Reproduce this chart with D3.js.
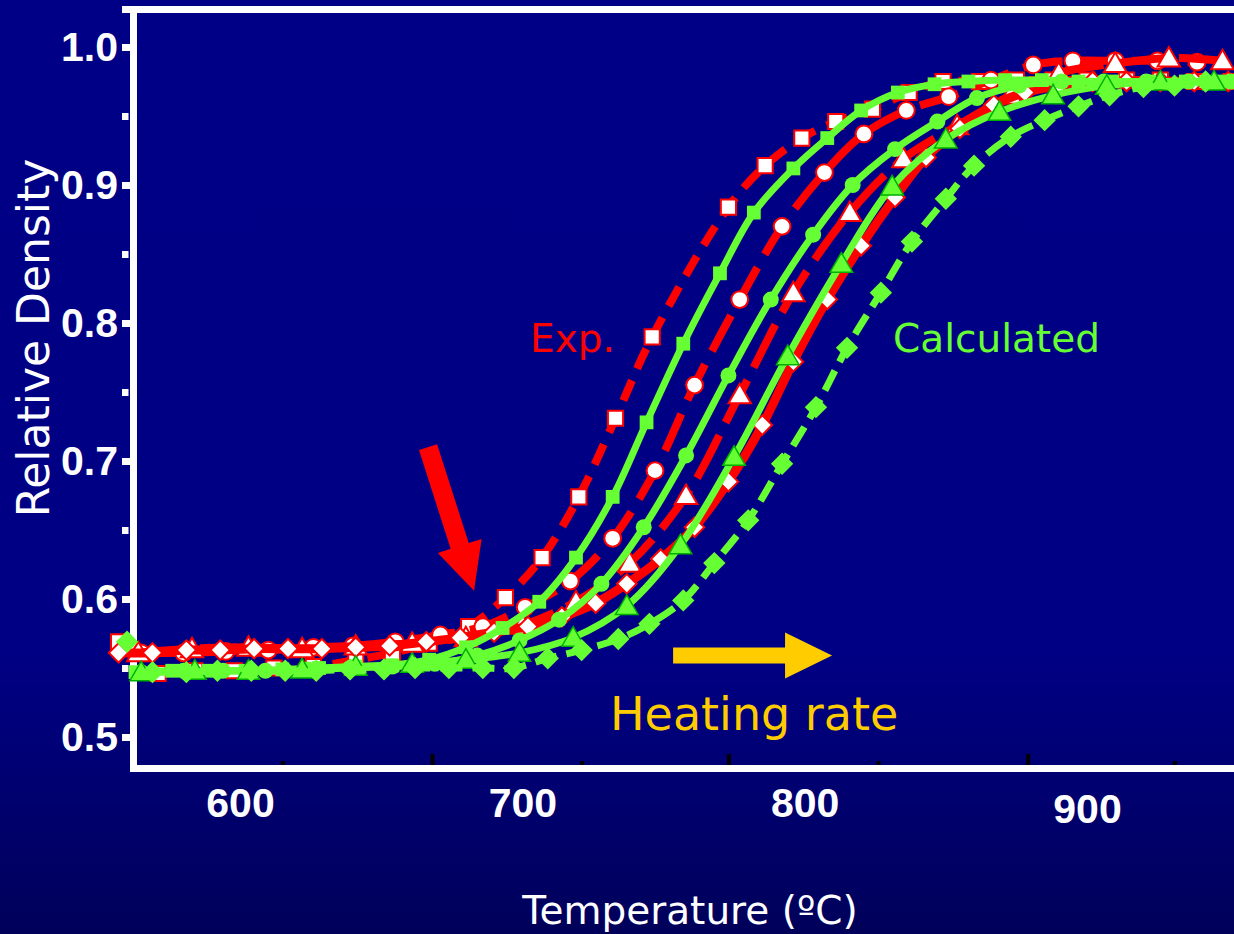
<!DOCTYPE html>
<html>
<head>
<meta charset="utf-8">
<title>Relative Density vs Temperature</title>
<script src="https://d3js.org/d3.v7.min.js"></script>
<style>
  body { margin: 0; background: #000080; }
  .lbl { font-family: "DejaVu Sans", Verdana, sans-serif; }
</style>
</head>
<body>
<script>
var width = 1234, height = 934;

// experimental runs (red, open markers) - temperature (C) and relative density
var expSqT = [557,571,584,598,612,626,641,654,667,681,694,707,720,733,746,773,786,799,811,824,837,849,862,875,888,900,914,926,938,951];
var expSqD = [0.569,0.546,0.548,0.548,0.550,0.551,0.556,0.561,0.568,0.580,0.601,0.630,0.674,0.731,0.790,0.884,0.914,0.934,0.946,0.955,0.967,0.975,0.975,0.976,0.976,0.976,0.976,0.976,0.975,0.975];
var expCirT = [565,580,595,610,626,640,655,671,686,701,717,732,747,761,777,792,807,821,836,851,866,881,895,910,925,939];
var expCirD = [0.561,0.561,0.562,0.563,0.565,0.566,0.569,0.574,0.580,0.594,0.613,0.644,0.693,0.755,0.817,0.870,0.909,0.937,0.954,0.964,0.976,0.987,0.990,0.990,0.990,0.989];
var expTriT = [564,583,603,622,641,661,680,700,719,738,758,777,796,816,835,854,873,890,910,929,948];
var expTriD = [0.561,0.564,0.565,0.564,0.566,0.568,0.572,0.581,0.598,0.626,0.675,0.748,0.822,0.880,0.919,0.943,0.965,0.981,0.988,0.992,0.990];
var expDiaT = [557,569,581,593,605,617,629,641,653,666,678,690,702,714,726,737,749,761,773,785,796,808,820,832,843,855,867,878,890,902,914,926,938,950];
var expDiaD = [0.561,0.561,0.563,0.563,0.564,0.564,0.564,0.565,0.566,0.569,0.572,0.576,0.580,0.587,0.597,0.611,0.629,0.652,0.685,0.726,0.772,0.817,0.856,0.891,0.920,0.941,0.958,0.967,0.972,0.975,0.975,0.975,0.975,0.975];

// calculated curves (green, filled markers)
var calcSqT = [563,576,589,602,615,628,641,654,667,680,693,706,719,732,744,757,770,782,796,808,820,833,846,858,871,884,897,909,922,935,948];
var calcSqD = [0.547,0.548,0.548,0.548,0.549,0.550,0.551,0.552,0.556,0.565,0.579,0.598,0.630,0.674,0.728,0.785,0.836,0.880,0.912,0.934,0.954,0.967,0.973,0.975,0.976,0.976,0.975,0.975,0.975,0.975,0.975];
var calcCirT = [565,580,594,609,624,639,654,669,684,699,713,728,743,758,773,788,803,817,832,847,861,876,891,906,921,936,951];
var calcCirD = [0.547,0.548,0.548,0.548,0.549,0.550,0.551,0.553,0.559,0.570,0.585,0.611,0.652,0.704,0.762,0.817,0.864,0.900,0.926,0.946,0.963,0.972,0.975,0.975,0.975,0.975,0.975];
var calcTriT = [565,584,603,622,641,661,680,699,718,737,756,775,794,813,831,850,869,888,907,926,945];
var calcTriD = [0.547,0.548,0.548,0.549,0.551,0.553,0.556,0.561,0.572,0.595,0.639,0.703,0.776,0.843,0.899,0.933,0.953,0.965,0.972,0.975,0.975];
var calcDiaT = [560,569,581,592,604,616,627,639,651,662,674,686,697,709,721,734,745,757,768,780,792,804,815,827,838,850,860,873,885,897,908,920,931,942];
var calcDiaD = [0.569,0.547,0.547,0.548,0.548,0.548,0.548,0.549,0.549,0.550,0.550,0.550,0.550,0.557,0.563,0.571,0.582,0.599,0.626,0.657,0.698,0.739,0.782,0.822,0.859,0.890,0.914,0.935,0.947,0.957,0.965,0.971,0.972,0.975];

// axis ticks
var xLabels = [600, 700, 800, 900];
var xMajorMarks = [668, 773, 879];
var xMinorMarks = [615, 721, 826, 931];
var yMajor = [0.5, 0.6, 0.7, 0.8, 0.9, 1.0];
var yMinor = [0.55, 0.65, 0.75, 0.85, 0.95];

var red = "#ff0000", green = "#66ff33", gold = "#ffcc00";

function zip(t, d) { return t.map(function(v, i) { return [v, d[i]]; }); }

var series = [
  {pts: zip(expSqT, expSqD), color: red, mk: "square", dash: "22,13", w: 8, from: 1, size: 230},
  {pts: zip(expCirT, expCirD), color: red, mk: "circle", dash: "40,15", w: 8, from: 0, size: 220},
  {pts: zip(expTriT, expTriD), color: red, mk: "triangle", dash: "48,14", w: 8, from: 0, size: 220},
  {pts: zip(expDiaT, expDiaD), color: red, mk: "diamond", dash: null, w: 9, from: 0, size: 190},
  {pts: zip(calcSqT, calcSqD), color: green, mk: "square", dash: null, w: 7, from: 0, size: 190},
  {pts: zip(calcCirT, calcCirD), color: green, mk: "circle", dash: null, w: 7, from: 0, size: 200},
  {pts: zip(calcTriT, calcTriD), color: green, mk: "triangle", dash: null, w: 7, from: 0, size: 220},
  {pts: zip(calcDiaT, calcDiaD), color: green, mk: "diamond", dash: "22,10", w: 7, from: 1, size: 250}
];

var x = d3.scaleLinear().domain([600, 900]).range([240, 1087]);
var y = d3.scaleLinear().domain([0.5, 1.0]).range([737, 47]);

var svg = d3.select("body").append("svg").attr("width", width).attr("height", height);

var grad = svg.append("defs").append("linearGradient").attr("id", "bg")
  .attr("x1", 0).attr("y1", 0).attr("x2", 0).attr("y2", 1);
grad.append("stop").attr("offset", "0%").attr("stop-color", "#000086");
grad.append("stop").attr("offset", "70%").attr("stop-color", "#000084");
grad.append("stop").attr("offset", "100%").attr("stop-color", "#00005a");
svg.append("rect").attr("width", width).attr("height", height).attr("fill", "url(#bg)");

// y axis ticks and labels
var yAx = svg.append("g").attr("transform", "translate(133,0)")
  .call(d3.axisLeft(y).tickValues(yMajor).tickSize(11).tickPadding(4).tickFormat(d3.format(".1f")));
yAx.select(".domain").remove();
yAx.selectAll("line").attr("stroke", "white").attr("stroke-width", 7);
yAx.selectAll("text").attr("fill", "white").attr("font-family", "'Liberation Sans', Arial, sans-serif")
  .attr("font-weight", "bold").attr("font-size", 41);

var yMin = svg.append("g").attr("transform", "translate(128.5,0)")
  .call(d3.axisLeft(y).tickValues(yMinor).tickSize(6.5).tickFormat(""));
yMin.select(".domain").remove();
yMin.selectAll("line").attr("stroke", "white").attr("stroke-width", 7);

// x axis labels
var xAx = svg.append("g").attr("transform", "translate(0,768)")
  .call(d3.axisBottom(x).tickValues(xLabels).tickSize(0).tickPadding(20).tickFormat(d3.format("d")));
xAx.select(".domain").remove();
xAx.selectAll("text").attr("fill", "white").attr("font-family", "'Liberation Sans', Arial, sans-serif")
  .attr("font-weight", "bold").attr("font-size", 41);
xAx.selectAll(".tick").filter(function(d) { return d === 900; }).select("text").attr("y", 26);

// small black marks sitting on the bottom axis
var xMaj = svg.append("g").attr("transform", "translate(0,765)")
  .call(d3.axisBottom(x).tickValues(xMajorMarks).tickSize(-11).tickFormat(""));
xMaj.select(".domain").remove();
xMaj.selectAll("line").attr("stroke", "black").attr("stroke-width", 4);
var xMin = svg.append("g").attr("transform", "translate(0,765)")
  .call(d3.axisBottom(x).tickValues(xMinorMarks).tickSize(-4).tickFormat(""));
xMin.select(".domain").remove();
xMin.selectAll("line").attr("stroke", "black").attr("stroke-width", 4);

// frame
svg.append("line").attr("x1", 133.5).attr("x2", 133.5).attr("y1", 6).attr("y2", 772)
  .attr("stroke", "white").attr("stroke-width", 7);
svg.append("line").attr("x1", 122).attr("x2", width).attr("y1", 9.5).attr("y2", 9.5)
  .attr("stroke", "white").attr("stroke-width", 7);
svg.append("line").attr("x1", 130).attr("x2", width).attr("y1", 768.5).attr("y2", 768.5)
  .attr("stroke", "white").attr("stroke-width", 7);

var line = d3.line().x(function(d) { return x(d[0]); }).y(function(d) { return y(d[1]); })
  .curve(d3.curveCatmullRom);

var shapes = {
  square: d3.symbol().type(d3.symbolSquare),
  circle: d3.symbol().type(d3.symbolCircle),
  triangle: d3.symbol().type(d3.symbolTriangle),
  diamond: d3.symbol().type(d3.symbolSquare)
};

function drawSeries(s) {
  var g = svg.append("g");
  g.append("path").datum(s.pts.slice(s.from)).attr("d", line)
    .attr("fill", "none").attr("stroke", s.color).attr("stroke-width", s.w)
    .attr("stroke-dasharray", s.dash);
  var isExp = s.color === red;
  g.selectAll("path.mk").data(s.pts).enter().append("path").attr("class", "mk")
    .attr("d", shapes[s.mk].size(s.size)())
    .attr("transform", function(d) {
      return "translate(" + x(d[0]) + "," + y(d[1]) + ")" + (s.mk === "diamond" ? " rotate(45)" : "") +
        (s.mk === "triangle" ? " translate(0,2)" : "");
    })
    .attr("fill", isExp ? "white" : green)
    .attr("stroke", isExp ? red : (s.mk === "triangle" ? "#00b000" : "none"))
    .attr("stroke-width", isExp ? 2 : 1.5);
}
series.forEach(drawSeries);

// arrows
function arrow(x0, y0, x1, y1, shaftW, headW, headL, color) {
  var dx = x1 - x0, dy = y1 - y0, len = Math.sqrt(dx * dx + dy * dy);
  var ux = dx / len, uy = dy / len, nx = -uy, ny = ux;
  var bx = x1 - ux * headL, by = y1 - uy * headL;
  var p = [
    [x0 + nx * shaftW / 2, y0 + ny * shaftW / 2],
    [bx + nx * shaftW / 2, by + ny * shaftW / 2],
    [bx + nx * headW / 2, by + ny * headW / 2],
    [x1, y1],
    [bx - nx * headW / 2, by - ny * headW / 2],
    [bx - nx * shaftW / 2, by - ny * shaftW / 2],
    [x0 - nx * shaftW / 2, y0 - ny * shaftW / 2]
  ];
  svg.append("path").attr("d", "M" + p.join("L") + "Z").attr("fill", color);
}
arrow(x(666.6), y(0.710), x(682.9), y(0.606), 19, 46, 47, red);
arrow(x(753.4), y(0.559), x(809.7), y(0.559), 16, 46, 47, gold);

// text
svg.append("text").attr("class", "lbl").attr("x", 530).attr("y", 352).attr("font-size", 39)
  .attr("fill", red).text("Exp.");
svg.append("text").attr("class", "lbl").attr("x", 893).attr("y", 352).attr("font-size", 39)
  .attr("fill", green).text("Calculated");
svg.append("text").attr("class", "lbl").attr("x", 610).attr("y", 730).attr("font-size", 46)
  .attr("fill", gold).text("Heating rate");
svg.append("text").attr("class", "lbl").attr("x", 690).attr("y", 924).attr("font-size", 39)
  .attr("text-anchor", "middle").attr("fill", "white").text("Temperature (\u00baC)");
svg.append("text").attr("class", "lbl").attr("transform", "translate(49,338) rotate(-90)")
  .attr("font-size", 44).attr("text-anchor", "middle").attr("fill", "white").text("Relative Density");
</script>
</body>
</html>
